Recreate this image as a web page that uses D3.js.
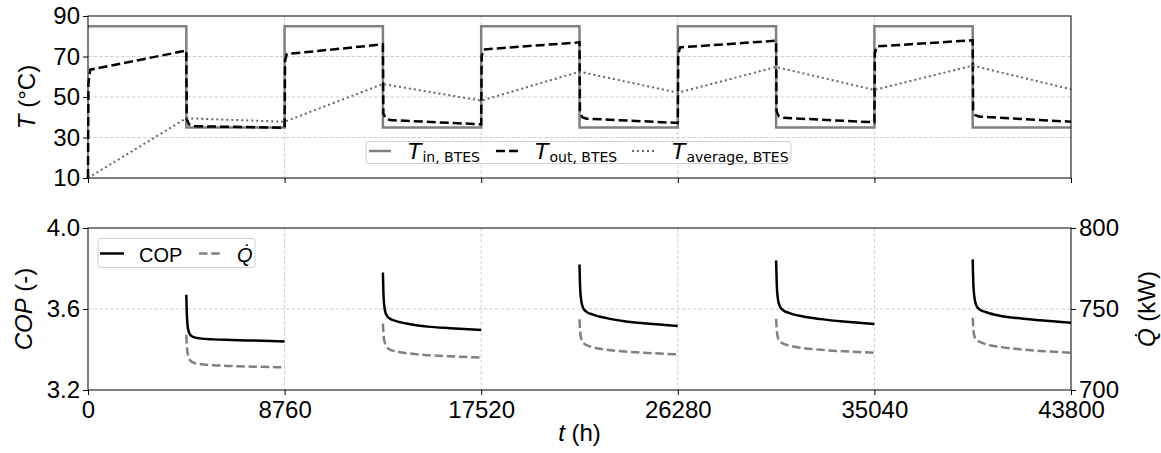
<!DOCTYPE html>
<html>
<head>
<meta charset="utf-8">
<script src="https://cdn.jsdelivr.net/npm/d3@7"></script>
<style>
  body { margin: 0; background: #fff; }
  svg { display: block; }
  text { font-family: "Liberation Sans", Arial, sans-serif; fill: #000; }
  .math { font-family: "DejaVu Sans", sans-serif; }
</style>
</head>
<body>
<div id="chart"></div>
<script>
// ticks
const xTicks = [0, 8760, 17520, 26280, 35040, 43800];
const tempTicks = [10, 30, 50, 70, 90];
const copTicks = [3.2, 3.6, 4.0];
const qTicks = [700, 750, 800];

// inlet temperature of the BTES (step between charging / discharging)
const tIn = [0, 4380, 4380, 8760, 8760, 13140, 13140, 17520, 17520, 21900, 21900, 26280, 26280, 30660, 30660, 35040, 35040, 39420, 39420, 43800];
const tempIn = [85, 85, 35, 35, 85, 85, 35, 35, 85, 85, 35, 35, 85, 85, 35, 35, 85, 85, 35, 35];

// outlet temperature of the BTES
const tOut = [0, 20, 100, 4380, 4400, 4500, 4700, 8760,
  8780, 8860, 13140, 13160, 13260, 13460, 17520,
  17540, 17620, 21900, 21920, 22020, 22220, 26280,
  26300, 26380, 30660, 30680, 30780, 30980, 35040,
  35060, 35140, 39420, 39440, 39540, 39740, 43800];
const tempOut = [10, 57, 63.5, 72.9, 39, 36.5, 35.6, 34.8,
  68, 71.2, 76, 42, 39.5, 38.6, 36.5,
  70, 73.5, 77, 42.5, 40, 39.3, 37.2,
  71, 74.5, 77.8, 43, 40.5, 39.7, 37.5,
  71.5, 75, 78, 43.5, 41, 40.3, 37.8];

// average storage temperature
const tAvg = [0, 4380, 8760, 13140, 17520, 21900, 26280, 30660, 35040, 39420, 43800];
const tempAvg = [10, 39.5, 37.8, 56.4, 48.2, 62.5, 52.1, 64.8, 53.5, 65.5, 53.8];

// heat pump operation (discharging periods only)
const cycleStart = [4380, 13140, 21900, 30660, 39420];
const cycleOffset = [0, 30, 80, 160, 300, 600, 1200, 2000, 3000, 4380];
const copCycles = [
  [3.67, 3.56, 3.50, 3.475, 3.462, 3.455, 3.450, 3.447, 3.444, 3.440],
  [3.78, 3.66, 3.60, 3.570, 3.553, 3.540, 3.525, 3.513, 3.505, 3.496],
  [3.82, 3.70, 3.64, 3.605, 3.587, 3.572, 3.555, 3.540, 3.528, 3.516],
  [3.84, 3.72, 3.65, 3.615, 3.595, 3.580, 3.563, 3.550, 3.538, 3.526],
  [3.845, 3.72, 3.655, 3.618, 3.598, 3.584, 3.567, 3.555, 3.544, 3.532]
];
const qCycles = [
  [734, 726, 721, 718.5, 717, 716, 715.3, 714.8, 714.4, 714],
  [741, 734, 729.5, 727, 725, 723.8, 722.5, 721.5, 720.8, 720],
  [743.6, 736, 731.5, 729.3, 727.8, 726.4, 724.9, 723.8, 722.9, 722],
  [744, 737, 732.5, 730.2, 728.8, 727.4, 725.9, 724.8, 723.9, 723],
  [744.6, 737.5, 733, 731, 729.8, 728.2, 726.6, 725.3, 724.1, 723]
];

const width = 1161, height = 453;
const left = 88, right = 1071;
const top1 = 16, bottom1 = 178;
const top2 = 228, bottom2 = 390;

const svg = d3.select("#chart").append("svg")
  .attr("width", width).attr("height", height);

const x = d3.scaleLinear().domain([0, 43800]).range([left, right]);
const yT = d3.scaleLinear().domain([10, 90]).range([bottom1, top1]);
const yC = d3.scaleLinear().domain([3.2, 4.0]).range([bottom2, top2]);
const yQ = d3.scaleLinear().domain([700, 800]).range([bottom2, top2]);

const gridColor = "#cfcfcf";

function grid(yScale, yVals, y0, y1) {
  const g = svg.append("g");
  g.selectAll(".gx").data(xTicks.slice(1, -1)).enter().append("line")
    .attr("x1", d => x(d)).attr("x2", d => x(d))
    .attr("y1", y0).attr("y2", y1)
    .attr("stroke", gridColor).attr("stroke-width", 1).attr("stroke-dasharray", "3.5,2");
  g.selectAll(".gy").data(yVals).enter().append("line")
    .attr("x1", left).attr("x2", right)
    .attr("y1", d => yScale(d)).attr("y2", d => yScale(d))
    .attr("stroke", gridColor).attr("stroke-width", 1).attr("stroke-dasharray", "3.5,2");
}

grid(yT, [30, 50, 70], top1, bottom1);
grid(yC, [3.6], top2, bottom2);

// ---- top panel lines
const lineT = (ts, vs) => d3.line()
  .x(i => x(ts[i])).y(i => yT(vs[i]))(d3.range(ts.length));

svg.append("path").attr("d", lineT(tIn, tempIn))
  .attr("fill", "none").attr("stroke", "#808080").attr("stroke-width", 2.5);
svg.append("path").attr("d", lineT(tOut, tempOut))
  .attr("fill", "none").attr("stroke", "#000").attr("stroke-width", 2.5)
  .attr("stroke-dasharray", "9,4");
svg.append("path").attr("d", lineT(tAvg, tempAvg))
  .attr("fill", "none").attr("stroke", "#666").attr("stroke-width", 2)
  .attr("stroke-dasharray", "2,3");

// ---- bottom panel lines
const lineC = d3.line().curve(d3.curveMonotoneX).x(d => x(d[0])).y(d => yC(d[1]));
const lineQ = d3.line().curve(d3.curveMonotoneX).x(d => x(d[0])).y(d => yQ(d[1]));

cycleStart.forEach((s, k) => {
  const qPts = cycleOffset.map((o, i) => [s + o, qCycles[k][i]]);
  svg.append("path").attr("d", lineQ(qPts))
    .attr("fill", "none").attr("stroke", "#808080").attr("stroke-width", 2.5)
    .attr("stroke-dasharray", "8.5,3.7");
});
cycleStart.forEach((s, k) => {
  const cPts = cycleOffset.map((o, i) => [s + o, copCycles[k][i]]);
  svg.append("path").attr("d", lineC(cPts))
    .attr("fill", "none").attr("stroke", "#000").attr("stroke-width", 2.5);
});

// ---- axes
function styleAxis(g) {
  g.select(".domain").remove();
  g.selectAll(".tick line").attr("stroke", "#000").attr("stroke-width", 1);
  g.selectAll(".tick text").attr("font-size", 24).attr("fill", "#000")
    .attr("font-family", "'Liberation Sans', Arial, sans-serif");
}

svg.append("g").attr("transform", `translate(${left},0)`)
  .call(d3.axisLeft(yT).tickValues(tempTicks).tickSize(5).tickPadding(3))
  .call(styleAxis);
svg.append("g").attr("transform", `translate(0,${bottom1})`)
  .call(d3.axisBottom(x).tickValues(xTicks).tickSize(5).tickFormat(""))
  .call(styleAxis);

svg.append("g").attr("transform", `translate(${left},0)`)
  .call(d3.axisLeft(yC).tickValues(copTicks).tickSize(5).tickPadding(3).tickFormat(d3.format(".1f")))
  .call(styleAxis);
svg.append("g").attr("transform", `translate(${right},0)`)
  .call(d3.axisRight(yQ).tickValues(qTicks).tickSize(5).tickPadding(3))
  .call(styleAxis);
svg.append("g").attr("transform", `translate(0,${bottom2})`)
  .call(d3.axisBottom(x).tickValues(xTicks).tickSize(5).tickPadding(6).tickFormat(d3.format("d")))
  .call(styleAxis);

// spines
[[top1, bottom1], [top2, bottom2]].forEach(([a, b]) => {
  svg.append("rect").attr("x", left).attr("y", a)
    .attr("width", right - left).attr("height", b - a)
    .attr("fill", "none").attr("stroke", "#000").attr("stroke-width", 1);
});

// ---- axis labels
function ylabel(cx, cy, parts) {
  const t = svg.append("text")
    .attr("transform", `translate(${cx},${cy}) rotate(-90)`)
    .attr("text-anchor", "middle").attr("dy", "0.35em").attr("font-size", 24);
  parts.forEach(p => t.append("tspan").attr("font-style", p[1] ? "italic" : "normal").text(p[0]));
  return t;
}
ylabel(27, 97, [["T", true], [" (°C)", false]]);
ylabel(24, 309, [["COP", true], [" (-)", false]]);
ylabel(1147, 309, [["Q\u0307", true], [" (kW)", false]]);

const xl = svg.append("text").attr("x", (left + right) / 2).attr("y", 441)
  .attr("text-anchor", "middle").attr("font-size", 24);
xl.append("tspan").attr("font-style", "italic").text("t");
xl.append("tspan").text(" (h)");

// ---- legend (top)
const lg1 = svg.append("g");
lg1.append("rect").attr("x", 366).attr("y", 141.5).attr("width", 425).attr("height", 22)
  .attr("rx", 3).attr("fill", "#fff").attr("fill-opacity", 0.8)
  .attr("stroke", "#d0d0d0").attr("stroke-width", 1);
const legTop = [
  { hx: 369, tx: 408, sub: "in, BTES", stroke: "#808080", w: 2.5, dash: null },
  { hx: 496, tx: 535, sub: "out, BTES", stroke: "#000", w: 2.5, dash: "9,4" },
  { hx: 632, tx: 672, sub: "average, BTES", stroke: "#666", w: 2, dash: "2,3" }
];
legTop.forEach(d => {
  lg1.append("line").attr("x1", d.hx).attr("x2", d.hx + 22).attr("y1", 151).attr("y2", 151)
    .attr("stroke", d.stroke).attr("stroke-width", d.w).attr("stroke-dasharray", d.dash);
  const t = lg1.append("text").attr("class", "math").attr("x", d.tx).attr("y", 158.5);
  t.append("tspan").attr("font-style", "italic").attr("font-size", 22).text("T");
  t.append("tspan").attr("font-size", 14).attr("dy", 3).attr("dx", 1).text(d.sub);
});

// ---- legend (bottom)
const lg2 = svg.append("g");
lg2.append("rect").attr("x", 98).attr("y", 238.5).attr("width", 157).attr("height", 29)
  .attr("rx", 3).attr("fill", "#fff").attr("fill-opacity", 0.8)
  .attr("stroke", "#d0d0d0").attr("stroke-width", 1);
lg2.append("line").attr("x1", 100).attr("x2", 124).attr("y1", 253.5).attr("y2", 253.5)
  .attr("stroke", "#000").attr("stroke-width", 2.5);
lg2.append("text").attr("x", 139).attr("y", 261.5).attr("font-size", 20).text("COP");
lg2.append("line").attr("x1", 199).attr("x2", 222).attr("y1", 253.5).attr("y2", 253.5)
  .attr("stroke", "#808080").attr("stroke-width", 2.5).attr("stroke-dasharray", "8.5,3.7");
lg2.append("text").attr("x", 237).attr("y", 261.5).attr("font-size", 20)
  .attr("font-style", "italic").text("Q\u0307");
</script>
</body>
</html>
